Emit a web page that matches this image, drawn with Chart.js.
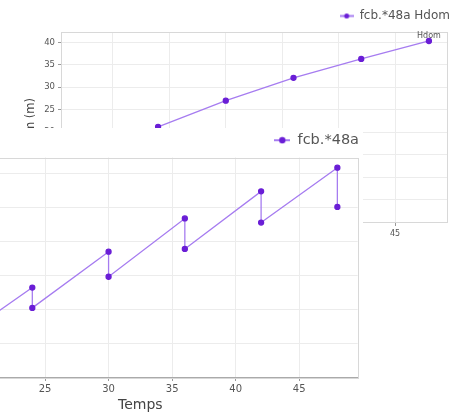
<!DOCTYPE html>
<html>
<head>
<meta charset="utf-8">
<script src="https://cdn.jsdelivr.net/npm/chart.js@4.4.0/dist/chart.umd.min.js"></script>
<style>
  html, body { margin: 0; padding: 0; background: #fff; overflow: hidden; }
  body { width: 460px; height: 414px; position: relative; }
  #back { position: absolute; left: 0; top: 0; width: 460px; height: 252px; }
  #front { position: absolute; left: -116px; top: 128px; width: 479px; height: 286px; background: #fff; z-index: 2; }
</style>
</head>
<body>
<div id="back"><canvas id="backChart"></canvas></div>
<div id="front"><canvas id="frontChart"></canvas></div>
<script>
// data - hauteur dominante (back chart)
const hdomAges = [24, 30, 36, 42, 48];
const hdomValues = [21.2, 27.0, 32.1, 36.3, 40.3];

// data - sawtooth series (front chart), before / after each thinning
const cycleAges = [12, 18, 18, 24, 24, 30, 30, 36, 36, 42, 42, 48, 48];
const cycleValues = [3.0, 7.8, 5.3, 13.2, 10.2, 18.5, 14.8, 23.4, 18.9, 27.4, 22.8, 30.9, 25.1];

// tick labels
const xTickValues = [20, 25, 30, 35, 40, 45];
const backYTickValues = [0, 5, 10, 15, 20, 25, 30, 35, 40];
const frontYTickValues = [0, 5, 10, 15, 20, 25, 30];

const lineColor = '#a67cf0';
const pointColor = '#6a1ed6';
const gridColor = '#ececec';
const textColor = '#555';
const fontFamily = '"DejaVu Sans", Verdana, sans-serif';

// legend marker: small line with a dot
function legendMarker(w, h, r) {
    const c = document.createElement('canvas');
    c.width = w;
    c.height = h;
    const g = c.getContext('2d');
    g.strokeStyle = lineColor;
    g.lineWidth = 2;
    g.beginPath();
    g.moveTo(0, h / 2);
    g.lineTo(w, h / 2);
    g.stroke();
    g.fillStyle = pointColor;
    g.beginPath();
    g.arc(w / 2, h / 2, r, 0, Math.PI * 2);
    g.fill();
    return c;
}

// light frame around the plot area
const frame = {
    id: 'frame',
    beforeDatasetsDraw(chart) {
        const a = chart.chartArea;
        const ctx = chart.ctx;
        ctx.save();
        ctx.strokeStyle = '#d8d8d8';
        ctx.lineWidth = 1;
        ctx.strokeRect(Math.round(a.left) + 0.5, Math.round(a.top) + 0.5,
            Math.round(a.right - a.left), Math.round(a.bottom - a.top));
        ctx.restore();
    }
};

// "Hdom" label above the last point
const hdomLabel = {
    id: 'hdomLabel',
    afterDatasetsDraw(chart) {
        const meta = chart.getDatasetMeta(0);
        const pt = meta.data[meta.data.length - 1];
        const ctx = chart.ctx;
        ctx.save();
        ctx.font = '8px ' + fontFamily;
        ctx.fillStyle = textColor;
        ctx.textAlign = 'center';
        ctx.textBaseline = 'bottom';
        ctx.fillText('Hdom', pt.x, pt.y - 1);
        ctx.restore();
    }
};

function fixedTicks(values) {
    return scale => { scale.ticks = values.map(v => ({ value: v })); };
}

// back chart
new Chart(document.getElementById('backChart'), {
    type: 'line',
    data: {
        datasets: [{
            label: 'fcb.*48a Hdom',
            data: hdomAges.map((a, i) => ({ x: a, y: hdomValues[i] })),
            borderColor: lineColor,
            borderWidth: 1.3,
            pointBackgroundColor: pointColor,
            pointBorderColor: pointColor,
            pointRadius: 2.5,
            tension: 0
        }]
    },
    options: {
        animation: false,
        responsive: true,
        maintainAspectRatio: false,
        layout: { padding: { top: 0, right: 0, left: 0, bottom: 0 } },
        plugins: {
            legend: {
                position: 'top',
                align: 'end',
                labels: {
                    usePointStyle: true,
                    pointStyle: legendMarker(14, 7, 2.5),
                    pointStyleWidth: 14,
                    padding: 10,
                    color: textColor,
                    font: { family: fontFamily, size: 12 }
                }
            },
            tooltip: { enabled: false }
        },
        scales: {
            x: {
                type: 'linear',
                min: 15.4,
                max: 49.6,
                afterBuildTicks: fixedTicks(xTickValues),
                afterFit: scale => { scale.height = 30; },
                grid: { color: gridColor, tickColor: '#999', tickLength: 4 },
                border: { color: '#aaa' },
                ticks: { color: textColor, padding: 3, font: { family: fontFamily, size: 8 } },
                title: { display: true, text: 'Temps', color: '#444', font: { family: fontFamily, size: 12 }, padding: 0 }
            },
            y: {
                min: 0,
                max: 42.3,
                afterBuildTicks: fixedTicks(backYTickValues),
                afterFit: scale => { scale.width = 61; },
                grid: { color: gridColor, tickColor: '#999', tickLength: 3 },
                border: { color: '#bbb' },
                ticks: { color: textColor, padding: 3, font: { family: fontFamily, size: 8.5 } },
                title: { display: true, text: 'Hdom (m)', color: '#444', font: { family: fontFamily, size: 11.5 }, padding: { top: 24, bottom: 0 } }
            },
            y2: {
                position: 'right',
                afterFit: scale => { scale.width = 13; },
                grid: { display: false },
                border: { display: false },
                ticks: { display: false }
            }
        }
    },
    plugins: [frame, hdomLabel]
});

// front chart
new Chart(document.getElementById('frontChart'), {
    type: 'line',
    data: {
        datasets: [{
            label: 'fcb.*48a',
            data: cycleAges.map((a, i) => ({ x: a, y: cycleValues[i] })),
            borderColor: lineColor,
            borderWidth: 1.3,
            pointBackgroundColor: pointColor,
            pointBorderColor: pointColor,
            pointRadius: 2.5,
            tension: 0
        }]
    },
    options: {
        animation: false,
        responsive: true,
        maintainAspectRatio: false,
        layout: { padding: { top: 1, right: 0, left: 0, bottom: 0 } },
        plugins: {
            legend: {
                position: 'top',
                align: 'end',
                labels: {
                    usePointStyle: true,
                    pointStyle: legendMarker(16, 8, 3.2),
                    pointStyleWidth: 16,
                    padding: 4,
                    color: textColor,
                    font: { family: fontFamily, size: 14.5 }
                }
            },
            tooltip: { enabled: false }
        },
        scales: {
            x: {
                type: 'linear',
                min: 15.4,
                max: 49.6,
                afterBuildTicks: fixedTicks(xTickValues),
                afterFit: scale => { scale.height = 37; },
                grid: { color: gridColor, tickColor: '#999', tickLength: 4 },
                border: { color: '#aaa' },
                ticks: { color: textColor, padding: 2, font: { family: fontFamily, size: 10 } },
                title: { display: true, text: 'Temps', color: '#444', font: { family: fontFamily, size: 14 }, padding: 0 }
            },
            y: {
                min: 0,
                max: 32.4,
                afterBuildTicks: fixedTicks(frontYTickValues),
                afterFit: scale => { scale.width = 39; },
                grid: { color: gridColor, tickColor: '#999', tickLength: 4 },
                border: { color: '#bbb' },
                ticks: { color: textColor, padding: 3, font: { family: fontFamily, size: 10 } }
            },
            y2: {
                position: 'right',
                afterFit: scale => { scale.width = 2; },
                grid: { display: false },
                border: { display: false },
                ticks: { display: false }
            }
        }
    },
    plugins: [frame]
});
</script>
</body>
</html>
